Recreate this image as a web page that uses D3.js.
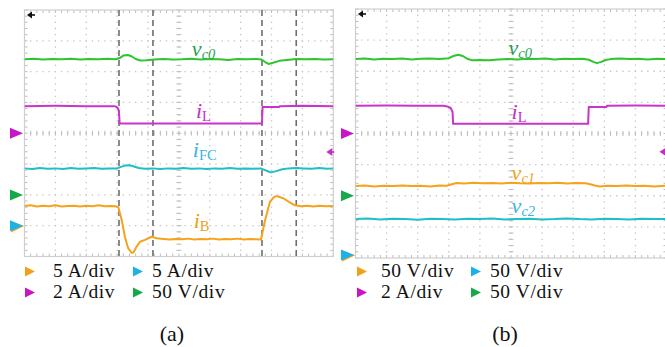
<!DOCTYPE html>
<html><head><meta charset="utf-8">
<script src="https://cdn.jsdelivr.net/npm/d3@7/dist/d3.min.js"></script>
<style>
html,body{margin:0;padding:0;background:#fff;}
svg{display:block;}
text{font-family:"Liberation Serif","Times New Roman",serif;}
</style></head>
<body>
<svg id="chart" width="665" height="347"></svg>
<script>
// ---------- DATA (time in divisions 0..10, amplitude in divisions 0..8 from bottom) ----------
// Panel (a)
const vc0A = [[0,6.40],[0.3,6.42],[0.6,6.39],[0.9,6.41],[1.2,6.40],[1.5,6.42],[1.8,6.39],[2.1,6.41],[2.4,6.40],[2.7,6.42],[2.95,6.40],[3.08,6.44],[3.2,6.52],[3.35,6.54],[3.48,6.49],[3.6,6.41],[3.75,6.36],[3.95,6.37],[4.2,6.39],[4.5,6.41],[4.8,6.39],[5.1,6.40],[5.4,6.42],[5.7,6.39],[6.0,6.41],[6.3,6.40],[6.6,6.38],[6.9,6.41],[7.2,6.40],[7.5,6.41],[7.68,6.39],[7.78,6.32],[7.9,6.25],[8.05,6.29],[8.25,6.35],[8.5,6.38],[8.8,6.41],[9.1,6.40],[9.4,6.41],[9.7,6.39],[10,6.40]];
const iLA = [[0,4.88],[1.0,4.89],[2.0,4.88],[2.9,4.88],[2.98,4.86],[3.03,4.80],[3.06,4.70],[3.08,4.33],[3.1,4.32],[5.0,4.32],[7.69,4.32],[7.71,4.85],[8.25,4.85],[8.27,4.88],[9,4.89],[10,4.88]];
const iFCA = [[0,2.86],[0.25,2.84],[0.5,2.87],[0.75,2.85],[1,2.86],[1.25,2.84],[1.5,2.87],[1.75,2.85],[2,2.86],[2.25,2.87],[2.5,2.85],[2.75,2.86],[3.0,2.86],[3.1,2.90],[3.25,2.95],[3.4,2.96],[3.55,2.92],[3.7,2.87],[3.9,2.85],[4.15,2.86],[4.4,2.84],[4.65,2.86],[4.9,2.85],[5.15,2.87],[5.4,2.85],[5.65,2.86],[5.9,2.84],[6.15,2.86],[6.4,2.85],[6.65,2.87],[6.9,2.85],[7.15,2.86],[7.4,2.85],[7.65,2.86],[7.75,2.82],[7.9,2.76],[7.98,2.73],[8.15,2.77],[8.35,2.83],[8.55,2.86],[8.8,2.87],[9.05,2.86],[9.3,2.85],[9.55,2.87],[9.8,2.85],[10,2.86]];
const iBA = [[0,1.64],[0.2,1.66],[0.4,1.62],[0.6,1.65],[0.8,1.63],[1.0,1.66],[1.2,1.62],[1.4,1.64],[1.6,1.65],[1.8,1.62],[2.0,1.65],[2.2,1.63],[2.4,1.66],[2.6,1.63],[2.8,1.64],[2.95,1.63],[3.04,1.60],[3.15,1.18],[3.25,0.64],[3.36,0.26],[3.47,0.12],[3.53,0.13],[3.63,0.32],[3.74,0.48],[3.9,0.54],[4.12,0.64],[4.28,0.59],[4.5,0.57],[4.7,0.55],[4.9,0.57],[5.1,0.56],[5.3,0.58],[5.5,0.55],[5.7,0.57],[5.9,0.56],[6.1,0.58],[6.3,0.55],[6.5,0.57],[6.7,0.56],[6.9,0.58],[7.1,0.55],[7.3,0.57],[7.5,0.56],[7.66,0.55],[7.79,1.18],[7.95,1.78],[8.08,1.93],[8.17,1.96],[8.38,1.89],[8.6,1.75],[8.76,1.66],[8.95,1.63],[9.15,1.65],[9.35,1.62],[9.55,1.65],[9.75,1.63],[10,1.64]];
const cursorsA = [3.06, 4.16, 7.69, 8.80];

// Panel (b)
const vc0B = [[0,6.39],[0.3,6.41],[0.6,6.38],[0.9,6.40],[1.2,6.39],[1.5,6.41],[1.8,6.38],[2.1,6.40],[2.4,6.41],[2.7,6.39],[3.0,6.42],[3.15,6.49],[3.3,6.53],[3.45,6.49],[3.6,6.40],[3.75,6.35],[4.0,6.36],[4.3,6.35],[4.6,6.38],[4.9,6.39],[5.2,6.38],[5.5,6.40],[5.8,6.39],[6.1,6.41],[6.4,6.38],[6.7,6.40],[7.0,6.39],[7.3,6.40],[7.5,6.37],[7.65,6.30],[7.76,6.26],[7.9,6.30],[8.05,6.36],[8.2,6.39],[8.5,6.41],[8.8,6.39],[9.1,6.40],[9.4,6.38],[9.7,6.40],[10,6.39]];
const iLB = [[0,4.89],[1,4.90],[2,4.89],[2.82,4.89],[2.95,4.87],[3.06,4.82],[3.12,4.70],[3.14,4.31],[5,4.31],[7.48,4.31],[7.5,4.85],[8.07,4.85],[8.09,4.89],[9,4.90],[10,4.89]];
const vc1B = [[0,2.31],[0.3,2.33],[0.6,2.30],[0.9,2.32],[1.2,2.31],[1.5,2.33],[1.8,2.31],[2.1,2.32],[2.4,2.30],[2.7,2.33],[2.93,2.32],[3.1,2.37],[3.25,2.41],[3.5,2.39],[3.8,2.42],[4.1,2.40],[4.4,2.41],[4.7,2.39],[5.0,2.42],[5.3,2.40],[5.6,2.39],[5.9,2.41],[6.2,2.40],[6.5,2.42],[6.8,2.39],[7.1,2.41],[7.4,2.40],[7.55,2.37],[7.7,2.33],[7.85,2.30],[8.1,2.32],[8.4,2.31],[8.7,2.33],[9.0,2.31],[9.3,2.32],[9.6,2.30],[10,2.32]];
const vc2B = [[0,1.25],[0.4,1.27],[0.8,1.24],[1.2,1.26],[1.6,1.25],[2.0,1.23],[2.4,1.26],[2.8,1.25],[3.2,1.24],[3.6,1.26],[4.0,1.25],[4.4,1.27],[4.8,1.24],[5.2,1.25],[5.6,1.26],[6.0,1.24],[6.4,1.25],[6.8,1.27],[7.2,1.25],[7.6,1.24],[8.0,1.26],[8.4,1.25],[8.8,1.24],[9.2,1.26],[9.6,1.25],[10,1.25]];

// channel offset markers (division level) and legend scales
const markersA = [{ch:"magenta", y:4.0},{ch:"green", y:2.0},{ch:"orange", y:1.0},{ch:"cyan", y:1.0}];
const markersB = [{ch:"magenta", y:4.0},{ch:"green", y:2.0},{ch:"orange", y:0.1},{ch:"cyan", y:0.1}];
const legendA = [["orange","5 A/div"],["cyan","5 A/div"],["magenta","2 A/div"],["green","50 V/div"]];
const legendB = [["orange","50 V/div"],["cyan","50 V/div"],["magenta","2 A/div"],["green","50 V/div"]];
const captions = ["(a)","(b)"];

// ---------- STYLE ----------
const traceColor = {green:"#2fc52f", magenta:"#cc33cc", cyan:"#1fbfc4", orange:"#f5a21c"};
const markColor = {green:"#17a84a", magenta:"#c815c8", cyan:"#1ab2e8", orange:"#f2a01a"};
const labelColor = {green:"#1f9f55", magenta:"#c22fc2", cyan:"#38b3e3", orange:"#eea21a"};

const panels = [
  {x0:24.5, y0:10, w:308.8, h:246.5,
   traces:[["green",vc0A],["magenta",iLA],["cyan",iFCA],["orange",iBA]],
   cursors:cursorsA, markers:markersA, trig:3.39,
   labels:[{c:"green",x:5.42,y:6.52,main:"v",sub:"c0",subItal:true},
           {c:"magenta",x:5.55,y:4.48,main:"i",sub:"L"},
           {c:"cyan",x:5.45,y:3.22,main:"i",sub:"FC"},
           {c:"orange",x:5.48,y:0.91,main:"i",sub:"B"}],
   legend:legendA, legX:[25,133], legTX:[53,152], caption:captions[0], capX:172},
  {x0:355.5, y0:9, w:311, h:249,
   traces:[["green",vc0B],["magenta",iLB],["orange",vc1B],["cyan",vc2B]],
   cursors:[], markers:markersB, trig:3.41,
   labels:[{c:"green",x:4.92,y:6.53,main:"v",sub:"c0",subItal:true},
           {c:"magenta",x:5.02,y:4.45,main:"i",sub:"L"},
           {c:"orange",x:5.02,y:2.5,main:"v",sub:"c1",subItal:true},
           {c:"cyan",x:5.02,y:1.43,main:"v",sub:"c2",subItal:true}],
   legend:legendB, legX:[357,471], legTX:[381,490], caption:captions[1], capX:505}
];

const svg = d3.select("#chart");
svg.append("rect").attr("width",665).attr("height",347).attr("fill","#fff");

panels.forEach((p,pi)=>{
  const x = d3.scaleLinear().domain([0,10]).range([p.x0, p.x0+p.w]);
  const y = d3.scaleLinear().domain([0,8]).range([p.y0+p.h, p.y0]);
  const dx = p.w/10, dy = p.h/8;
  const g = svg.append("g");
  const clipId = "clip"+pi;
  svg.append("clipPath").attr("id",clipId).append("rect")
     .attr("x",p.x0).attr("y",p.y0).attr("width",p.w).attr("height",p.h);

  // dotted grid
  const grid = g.append("g").attr("stroke","#c4c4c4").attr("stroke-width",1.3);
  d3.range(1,10).forEach(i=>{
    grid.append("line").attr("x1",x(i)).attr("x2",x(i)).attr("y1",p.y0).attr("y2",p.y0+p.h)
      .attr("stroke-dasharray",`1.3 ${dy/5-1.3}`).attr("stroke-dashoffset",0.65);
  });
  d3.range(1,8).forEach(j=>{
    grid.append("line").attr("y1",y(j)).attr("y2",y(j)).attr("x1",p.x0).attr("x2",p.x0+p.w)
      .attr("stroke-dasharray",`1.3 ${dx/5-1.3}`).attr("stroke-dashoffset",0.65);
  });
  // centre line ticks
  const tk = g.append("g").attr("stroke","#bdbdbd").attr("stroke-width",1);
  d3.range(0,10.01,0.2).forEach(t=>{
    tk.append("line").attr("x1",x(t)).attr("x2",x(t)).attr("y1",y(4)-2.5).attr("y2",y(4)+2.5);
    tk.append("line").attr("x1",x(t)).attr("x2",x(t)).attr("y1",p.y0+p.h).attr("y2",p.y0+p.h-3);
    tk.append("line").attr("x1",x(t)).attr("x2",x(t)).attr("y1",p.y0).attr("y2",p.y0+3);
  });
  d3.range(0,8.01,0.2).forEach(v=>{
    tk.append("line").attr("y1",y(v)).attr("y2",y(v)).attr("x1",x(5)-2.5).attr("x2",x(5)+2.5);
    tk.append("line").attr("y1",y(v)).attr("y2",y(v)).attr("x1",p.x0).attr("x2",p.x0+3);
    tk.append("line").attr("y1",y(v)).attr("y2",y(v)).attr("x1",p.x0+p.w).attr("x2",p.x0+p.w-3);
  });
  g.append("rect").attr("x",p.x0).attr("y",p.y0).attr("width",p.w).attr("height",p.h)
    .attr("fill","none").attr("stroke","#cfcfcf").attr("stroke-width",1.2);

  // cursors
  p.cursors.forEach(c=>{
    g.append("line").attr("x1",x(c)).attr("x2",x(c)).attr("y1",p.y0).attr("y2",p.y0+p.h)
      .attr("stroke","#6e6e6e").attr("stroke-width",1.6).attr("stroke-dasharray","6 4");
  });

  // traces
  const line = d3.line().x(d=>x(d[0])).y(d=>y(d[1]));
  const tg = g.append("g").attr("clip-path",`url(#${clipId})`);
  p.traces.forEach(([c,data])=>{
    tg.append("path").attr("d",line(data)).attr("fill","none")
      .attr("stroke",traceColor[c]).attr("stroke-width",2).attr("stroke-linejoin","round");
  });

  // labels
  p.labels.forEach(l=>{
    const t = g.append("text").attr("x",x(l.x)).attr("y",y(l.y)).attr("fill",labelColor[l.c]);
    t.append("tspan").attr("font-style","italic").attr("font-size",22).text(l.main);
    t.append("tspan").attr("font-style",l.subItal?"italic":"normal").attr("font-size",14.5)
      .attr("dy",3).text(l.sub);
  });

  // channel markers on the left edge
  p.markers.forEach(m=>{
    const cy = y(m.y), xr = p.x0-1.5;
    const off = m.ch==="orange"?1.2:0;
    g.append("path").attr("d",`M${xr-13+off},${cy-5.5+off} L${xr+off},${cy+off*0.3} L${xr-13+off},${cy+5.5+off} Z`)
      .attr("fill",markColor[m.ch]);
  });
  // trigger level marker on right edge
  const ty = y(p.trig), tx = p.x0+p.w-7;
  g.append("path").attr("d",`M${tx},${ty} L${tx+6},${ty-4} L${tx+6},${ty+4} Z`).attr("fill","#c230c2");
  g.append("line").attr("x1",tx+4).attr("x2",tx+8).attr("y1",ty).attr("y2",ty).attr("stroke","#c230c2").attr("stroke-width",1.6);
  // black arrow top-left
  const ax = p.x0+2.5, ay = p.y0+5;
  g.append("path").attr("d",`M${ax},${ay} L${ax+5},${ay-3.5} L${ax+5},${ay+3.5} Z`).attr("fill","#111");
  g.append("line").attr("x1",ax+4).attr("x2",ax+8).attr("y1",ay).attr("y2",ay).attr("stroke","#111").attr("stroke-width",1.6);

  // legend
  const rows = [277, 298];
  p.legend.forEach(([c,txt],k)=>{
    const r = Math.floor(k/2), col = k%2;
    const lx = p.legX[col], ly = rows[r]-5.5;
    g.append("path").attr("d",`M${lx},${ly-5} L${lx+10},${ly} L${lx},${ly+5} Z`).attr("fill",markColor[c]);
    g.append("text").attr("x",p.legTX[col]).attr("y",rows[r]).attr("font-size",19.5)
      .attr("fill","#111").attr("letter-spacing",0.6).text(txt);
  });
  g.append("text").attr("x",p.capX).attr("y",341).attr("text-anchor","middle")
    .attr("font-size",22).attr("fill","#111").text(p.caption);
});
</script>
</body></html>
